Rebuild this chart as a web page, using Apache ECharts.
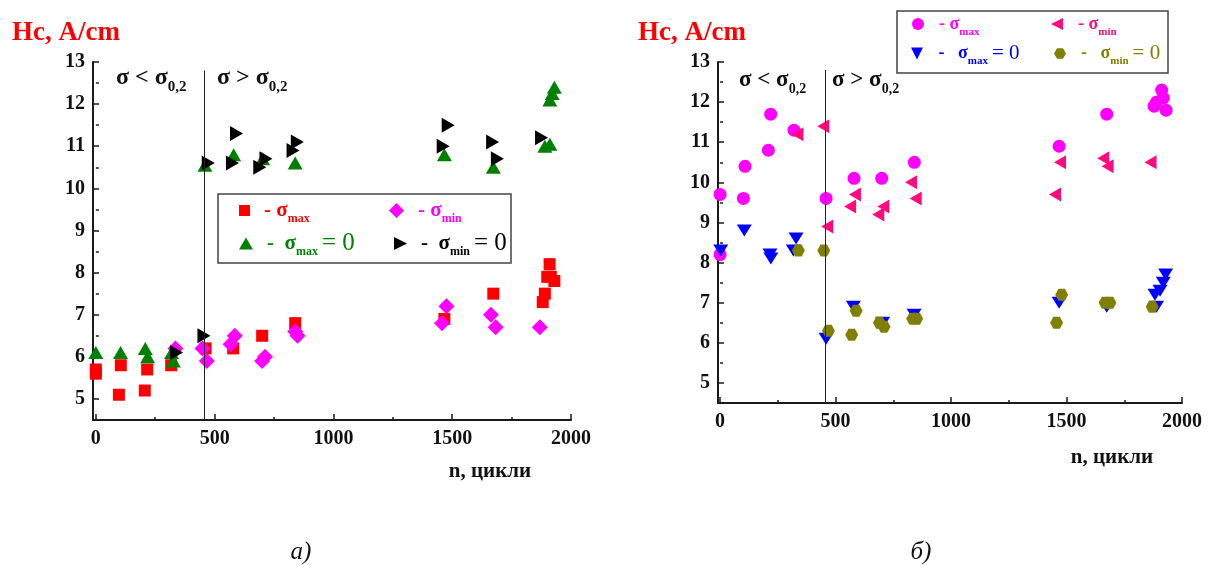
<!DOCTYPE html>
<html>
<head>
<meta charset="utf-8">
<script src="https://cdn.jsdelivr.net/npm/echarts@6/dist/echarts.min.js"></script>
<style>
  html, body { margin: 0; padding: 0; background: #fff; }
  #chart { width: 1209px; height: 565px; }
</style>
</head>
<body>
<div id="chart"></div>
<script>
// ---- panel (а): cycles n and coercive force Hc, A/cm ----
const nSmaxA   = [0, 0, 97, 105, 206, 216, 317, 462, 578, 700, 839, 1467, 1673, 1881, 1890, 1900, 1915, 1910, 1930];
const hcSmaxA  = [5.7, 5.6, 5.1, 5.8, 5.2, 5.7, 5.8, 6.2, 6.2, 6.5, 6.8, 6.9, 7.5, 7.3, 7.5, 7.9, 7.9, 8.2, 7.8];
const nSminA   = [335, 449, 467, 567, 585, 700, 712, 839, 849, 1457, 1476, 1663, 1683, 1869];
const hcSminA  = [6.2, 6.2, 5.9, 6.3, 6.5, 5.9, 6.0, 6.6, 6.5, 6.8, 7.2, 7.0, 6.7, 6.7];
const nSmax0A  = [0, 104, 208, 218, 319, 326, 459, 580, 702, 839, 1467, 1673, 1890, 1911, 1911, 1921, 1930];
const hcSmax0A = [6.1, 6.1, 6.2, 6.0, 6.1, 5.9, 10.55, 10.8, 10.7, 10.6, 10.8, 10.5, 11.0, 11.05, 12.1, 12.25, 12.4];
const nSmin0A  = [340, 455, 473, 575, 592, 690, 716, 830, 848, 1462, 1483, 1670, 1690, 1876];
const hcSmin0A = [6.1, 6.5, 10.6, 10.6, 11.3, 10.5, 10.7, 10.9, 11.1, 11.0, 11.5, 11.1, 10.7, 11.2];

// ---- panel (б) ----
const nSmaxB   = [0, 0, 101, 108, 209, 219, 320, 459, 580, 700, 841, 1468, 1674, 1879, 1931, 1912, 1919, 1890];
const hcSmaxB  = [9.7, 8.2, 9.6, 10.4, 10.8, 11.7, 11.3, 9.6, 10.1, 10.1, 10.5, 10.9, 11.7, 11.9, 11.8, 12.3, 12.1, 12.0];
const nSminB   = [335, 447, 464, 563, 584, 685, 707, 827, 847, 1450, 1472, 1659, 1678, 1864];
const hcSminB  = [11.2, 11.4, 8.9, 9.4, 9.7, 9.2, 9.4, 10.0, 9.6, 9.7, 10.5, 10.6, 10.4, 10.5];
const nSmax0B  = [3, 105, 216, 220, 317, 329, 459, 577, 704, 840, 1468, 1674, 1890, 1883, 1905, 1919, 1929];
const hcSmax0B = [8.3, 8.8, 8.2, 8.1, 8.3, 8.6, 6.1, 6.9, 6.5, 6.7, 7.0, 6.9, 6.9, 7.2, 7.3, 7.5, 7.7];
const nSmin0B  = [339, 449, 469, 570, 589, 690, 710, 834, 851, 1457, 1479, 1667, 1688, 1871];
const hcSmin0B = [8.3, 8.3, 6.3, 6.2, 6.8, 6.5, 6.4, 6.6, 6.6, 6.5, 7.2, 7.0, 7.0, 6.9];

// ---- axes ----
const xTicks      = [0, 500, 1000, 1500, 2000];
const xMinorTicks = [250, 750, 1250, 1750];
const yTicks      = [5, 6, 7, 8, 9, 10, 11, 12, 13];
const yMinorTicks = [5.5, 6.5, 7.5, 8.5, 9.5, 10.5, 11.5, 12.5];
const yRange = [4.5, 13];
// n at which σ reaches σ0,2, and the top of the divider line
const nYield = 455;
const dividerTop = 12.8;

const SERIF = '"Liberation Serif", "Times New Roman", serif';
const AXIS_COLOR = '#1a1a1a';

const zip = (xs, ys) => xs.map((x, i) => [x, ys[i]]);

const TRI_RIGHT = 'path://M0,0 L10,5 L0,10 Z';
const TRI_LEFT  = 'path://M10,0 L0,5 L10,10 Z';
const TRI_DOWN  = 'path://M0,0 L10,0 L5,10 Z';
const HEXAGON   = 'path://M2.5,0 L7.5,0 L10,4.33 L7.5,8.66 L2.5,8.66 L0,4.33 Z';

function mainX(grid, min) {
  return {
    gridIndex: grid, type: 'value', position: 'bottom', min: min, max: 2000,
    axisLine: { show: true, onZero: false, lineStyle: { color: AXIS_COLOR, width: 2 } },
    axisTick: { show: true, inside: true, length: 6, customValues: xTicks, lineStyle: { color: AXIS_COLOR, width: 1.5 } },
    axisLabel: { customValues: xTicks, formatter: v => String(v), fontFamily: SERIF, fontWeight: 'bold', fontSize: 20, color: '#111', margin: 9 },
    splitLine: { show: false }
  };
}
function minorX(grid, min) {
  return {
    gridIndex: grid, type: 'value', position: 'bottom', min: min, max: 2000,
    axisLine: { show: false },
    axisTick: { show: true, inside: true, length: 3, customValues: xMinorTicks, lineStyle: { color: AXIS_COLOR, width: 1.5 } },
    axisLabel: { show: false }, splitLine: { show: false }
  };
}
function mainY(grid) {
  return {
    gridIndex: grid, type: 'value', position: 'left', min: yRange[0], max: yRange[1],
    axisLine: { show: true, onZero: false, lineStyle: { color: AXIS_COLOR, width: 2 } },
    axisTick: { show: true, inside: true, length: 6, customValues: yTicks, lineStyle: { color: AXIS_COLOR, width: 1.5 } },
    axisLabel: { customValues: yTicks, formatter: v => String(v), fontFamily: SERIF, fontWeight: 'bold', fontSize: 20, color: '#111', margin: 8 },
    splitLine: { show: false }
  };
}
function minorY(grid) {
  return {
    gridIndex: grid, type: 'value', position: 'left', min: yRange[0], max: yRange[1],
    axisLine: { show: false },
    axisTick: { show: true, inside: true, length: 3, customValues: yMinorTicks, lineStyle: { color: AXIS_COLOR, width: 1.5 } },
    axisLabel: { show: false }, splitLine: { show: false }
  };
}

function scatter(name, axis, data, symbol, size, color, extra) {
  return Object.assign({
    name: name, type: 'scatter', xAxisIndex: axis, yAxisIndex: axis,
    data: data, symbol: symbol, symbolSize: size,
    itemStyle: { color: color, opacity: 1 },
    emphasis: { disabled: true }, z: 3
  }, extra || {});
}

function divider() {
  return {
    silent: true, symbol: 'none', animation: false,
    label: { show: false },
    lineStyle: { color: '#222', width: 1, type: 'solid' },
    data: [[{ coord: [nYield, yRange[0]] }, { coord: [nYield, dividerTop] }]]
  };
}

// legend entry: icon + "- σ_sub" or "- σ_sub = 0"
function legendEntry(name, icon, w, h, left, top, color, sub, zero, big) {
  const fs = big ? 21 : 18, subFs = big ? 12 : 11, eqFs = big ? 25 : 21;
  const gap = big ? 9 : 10;
  const lead = zero ? (big ? '-  ' : '-   ') : '- ';
  return {
    show: true, selectedMode: false, left: left, top: top, padding: 0,
    itemWidth: w, itemHeight: h, icon: icon,
    data: [name],
    formatter: () => '{p|}{d|' + lead + 'σ}{s|' + sub + '}' + (zero ? '{e|= 0}' : ''),
    textStyle: {
      rich: {
        p: { width: gap },
        d: { fontFamily: SERIF, fontWeight: 'bold', fontSize: fs, color: color },
        s: { fontFamily: SERIF, fontWeight: 'bold', fontSize: subFs, color: color, padding: [16, 4, 0, 0] },
        e: { fontFamily: SERIF, fontSize: eqFs, color: color }
      }
    }
  };
}

function sigmaLabel(x, y, rel, fs, subFs) {
  return {
    type: 'text', x: x, y: y, silent: true,
    style: {
      text: '{a|σ ' + rel + ' σ}{b|0,2}',
      verticalAlign: 'middle',
      rich: {
        a: { fontFamily: SERIF, fontWeight: 'bold', fontSize: fs, fill: '#111' },
        b: { fontFamily: SERIF, fontWeight: 'bold', fontSize: subFs, fill: '#111', padding: [18, 0, 0, 0] }
      }
    }
  };
}

function plainText(text, x, y, font, color, align) {
  return {
    type: 'text', x: x, y: y, silent: true,
    style: { text: text, font: font, fill: color, align: align || 'left', verticalAlign: 'middle' }
  };
}

const option = {
  backgroundColor: '#fff',
  animation: false,
  grid: [
    { left: 93, top: 62, width: 478, height: 358 },
    { left: 718, top: 62, width: 464, height: 341 }
  ],
  xAxis: [mainX(0, -12), minorX(0, -12), mainX(1, -9), minorX(1, -9)],
  yAxis: [mainY(0), minorY(0), mainY(1), minorY(1)],
  legend: [
    legendEntry('aSmax',  'rect',    11, 11, 239, 200, '#ff0000', 'max', false, true),
    legendEntry('aSmin',  'diamond', 15, 15, 389, 200, '#ff00ff', 'min', false, true),
    legendEntry('aSmax0', 'triangle',14, 12, 239, 231, '#008000', 'max', true,  true),
    legendEntry('aSmin0', TRI_RIGHT, 13, 14, 394, 231, '#000000', 'min', true,  true),
    legendEntry('bSmax',  'circle',  12, 12, 912, 15,  '#ff00ff', 'max', false, false),
    legendEntry('bSmin',  TRI_LEFT,  12, 13, 1051, 15, '#ff0a7f', 'min', false, false),
    legendEntry('bSmax0', TRI_DOWN,  13, 12, 911, 43,  '#0000ff', 'max', true,  false),
    legendEntry('bSmin0', HEXAGON,   12, 12, 1054, 43, '#808000', 'min', true,  false)
  ],
  series: [
    scatter('aSmax',  0, zip(nSmaxA, hcSmaxA),   'rect',     12, '#ff0000', { markLine: divider() }),
    scatter('aSmin',  0, zip(nSminA, hcSminA),   'diamond',  16, '#ff00ff'),
    scatter('aSmax0', 0, zip(nSmax0A, hcSmax0A), 'triangle', [15, 13], '#008000'),
    scatter('aSmin0', 0, zip(nSmin0A, hcSmin0A), TRI_RIGHT,  [13, 15], '#000000'),
    scatter('bSmax',  2, zip(nSmaxB, hcSmaxB),   'circle',   13, '#ff00ff', { markLine: divider() }),
    scatter('bSmin',  2, zip(nSminB, hcSminB),   TRI_LEFT,   [12, 14], '#ff0a7f'),
    scatter('bSmax0', 2, zip(nSmax0B, hcSmax0B), TRI_DOWN,   [15, 12], '#0000ff'),
    scatter('bSmin0', 2, zip(nSmin0B, hcSmin0B), HEXAGON,    [13, 12], '#808000')
  ],
  graphic: [
    // legend frames
    { type: 'rect', silent: true, shape: { x: 218, y: 194, width: 293, height: 69 },
      style: { fill: 'none', stroke: '#444', lineWidth: 1.5 }, z: 1 },
    { type: 'rect', silent: true, shape: { x: 897, y: 11, width: 271, height: 62 },
      style: { fill: 'none', stroke: '#444', lineWidth: 1.5 }, z: 1 },
    // axis titles
    plainText('Hc, A/cm', 12, 33, 'bold 27px ' + SERIF, '#ff0000'),
    plainText('Hc, A/cm', 638, 33, 'bold 27px ' + SERIF, '#ff0000'),
    plainText('n, цикли', 490, 472, 'bold 21px ' + SERIF, '#111', 'center'),
    plainText('n, цикли', 1112, 458, 'bold 21px ' + SERIF, '#111', 'center'),
    // regions below / above the yield stress
    sigmaLabel(116, 78, '<', 24, 15),
    sigmaLabel(217, 78, '>', 24, 15),
    sigmaLabel(739, 80, '<', 23, 14),
    sigmaLabel(832, 80, '>', 23, 14),
    // panel captions
    plainText('а)', 301, 552, 'italic 25px ' + SERIF, '#111', 'center'),
    plainText('б)', 921, 552, 'italic 25px ' + SERIF, '#111', 'center')
  ]
};

const chart = echarts.init(document.getElementById('chart'), null, { renderer: 'canvas' });
chart.setOption(option);
</script>
</body>
</html>
